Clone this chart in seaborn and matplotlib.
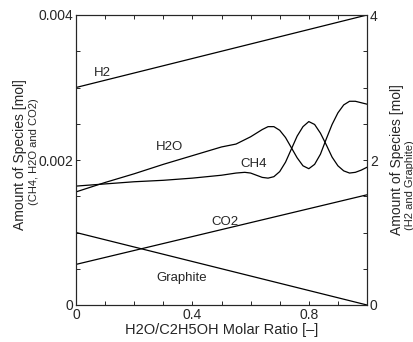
import numpy as np
import pandas as pd
import matplotlib
matplotlib.use("Agg")
import matplotlib.pyplot as plt
import seaborn as sns
from matplotlib.ticker import MultipleLocator, FixedLocator

# straight lines (end points)
x_lin = [0.0, 1.0]
h2 = [3.0, 4.0]          # right axis
graphite = [1.0, 0.0]    # right axis
co2 = [0.00056, 0.00152]  # left axis

# wavy curves (left axis)
x_wave = [0.0, 0.1, 0.2, 0.3, 0.4, 0.5, 0.55, 0.58,
          0.60, 0.62, 0.64, 0.66, 0.68, 0.70, 0.72, 0.74, 0.76, 0.78,
          0.80, 0.82, 0.84, 0.86, 0.88, 0.90, 0.92, 0.94, 0.96, 0.98, 1.00]
h2o = [0.00156, 0.00169, 0.00181, 0.00194, 0.00206, 0.00218, 0.00222, 0.00228,
       0.00232, 0.00237, 0.00242, 0.00246, 0.00246, 0.00241, 0.00231, 0.00217,
       0.00203, 0.00192, 0.00188, 0.00194, 0.00208, 0.00229, 0.00249, 0.00265,
       0.00276, 0.00281, 0.00281, 0.00279, 0.00277]
ch4 = [0.00164, 0.00167, 0.00170, 0.00172, 0.00175, 0.00179, 0.00182, 0.00183,
       0.00182, 0.00179, 0.00176, 0.00175, 0.00177, 0.00184, 0.00197, 0.00215,
       0.00233, 0.00246, 0.00253, 0.00249, 0.00237, 0.00221, 0.00204, 0.00192,
       0.00185, 0.00182, 0.00183, 0.00186, 0.00190]

labels = ["H2", "H2O", "CH4", "CO2", "Graphite"]
label_x = [0.092, 0.323, 0.609, 0.512, 0.364]
label_y = [0.00320, 0.00218, 0.00194, 0.00114, 0.00037]

sns.set_style("ticks")
plt.rcParams['font.family'] = ['Liberation Sans', 'DejaVu Sans']
plt.rcParams['xtick.direction'] = 'in'
plt.rcParams['ytick.direction'] = 'in'

fig = plt.figure(figsize=(4.14, 3.42), dpi=100)
ax = fig.add_axes([76 / 414, 37 / 342, 291 / 414, 290 / 342])
ax2 = ax.twinx()

lw = 0.9
sns.lineplot(x=x_lin, y=co2, ax=ax, color='black', lw=lw)
sns.lineplot(x=x_wave, y=h2o, ax=ax, color='black', lw=lw, sort=False, estimator=None)
sns.lineplot(x=x_wave, y=ch4, ax=ax, color='black', lw=lw, sort=False, estimator=None)
sns.lineplot(x=x_lin, y=h2, ax=ax2, color='black', lw=lw)
sns.lineplot(x=x_lin, y=graphite, ax=ax2, color='black', lw=lw)

ax.set_xlim(0, 1)
ax.set_ylim(0, 0.004)
ax2.set_ylim(0, 4)

ax.xaxis.set_major_locator(FixedLocator([0, 0.4, 0.8]))
ax.xaxis.set_minor_locator(MultipleLocator(0.1))
ax.set_xticklabels(['0', '0.4', '0.8'])
ax.yaxis.set_major_locator(FixedLocator([0, 0.002, 0.004]))
ax.yaxis.set_minor_locator(MultipleLocator(0.0005))
ax.set_yticklabels(['0', '0.002', '0.004'])
ax2.yaxis.set_major_locator(FixedLocator([0, 2, 4]))
ax2.yaxis.set_minor_locator(MultipleLocator(0.5))
ax2.set_yticklabels(['0', '2', '4'])

for a in (ax, ax2):
    a.tick_params(which='both', length=3, width=0.7, labelsize=10, pad=2)
    for s in a.spines.values():
        s.set_linewidth(0.8)
        s.set_visible(True)
ax.tick_params(which='both', top=True)
ax.set_xlabel("H2O/C2H5OH Molar Ratio [\u2013]", fontsize=10.5, labelpad=1)
ax.set_ylabel("")
ax2.set_ylabel("")

for t, xx, yy in zip(labels, label_x, label_y):
    ax.text(xx, yy, t, fontsize=9.5, ha='center', va='center')

fig.text(20 / 414, 1 - 155 / 342, "Amount of Species [mol]", rotation=90,
         fontsize=10, ha='center', va='center')
fig.text(34 / 414, 1 - 152 / 342, "(CH4, H2O and CO2)", rotation=90,
         fontsize=8, ha='center', va='center')
fig.text(397 / 414, 1 - 160 / 342, "Amount of Species [mol]", rotation=90,
         fontsize=10, ha='center', va='center')
fig.text(410 / 414, 1 - 185 / 342, "(H2 and Graphite)", rotation=90,
         fontsize=8, ha='center', va='center')

fig.savefig("out.png", dpi=100)
